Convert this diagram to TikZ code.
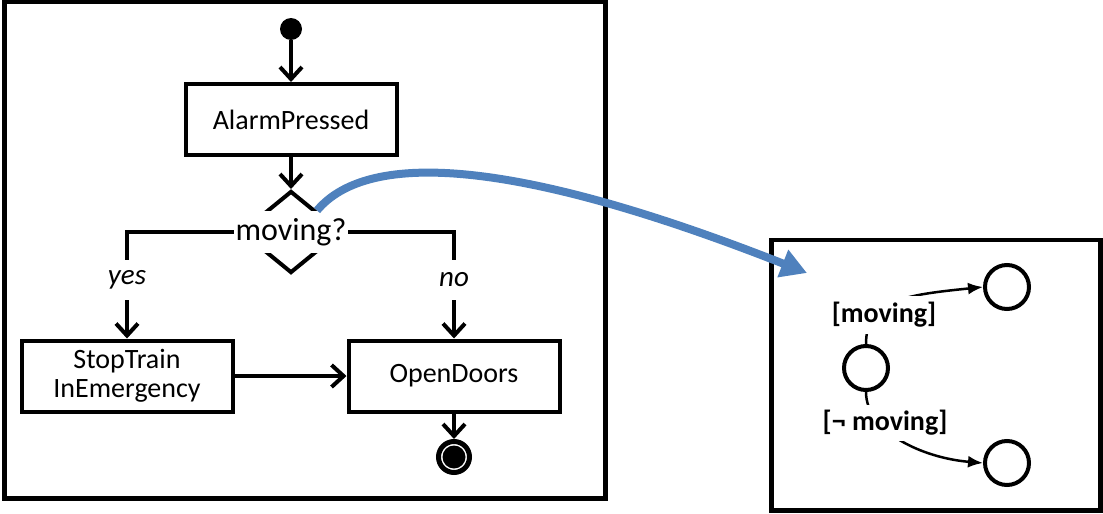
\documentclass[tikz,border=0pt]{standalone}
\usepackage{fontspec}
\setmainfont{Carlito}
\usetikzlibrary{shapes.geometric,arrows.meta}
\definecolor{arrowblue}{RGB}{79,129,189}
\begin{document}
\begin{tikzpicture}[x=1pt,y=-1pt,
 flow/.style={line width=4pt,-{Straight Barb[length=12pt,width=22pt]}},
 actbox/.style={draw,line width=4pt,minimum width=211pt,minimum height=71pt,inner sep=2pt,font=\fontsize{28}{29}\selectfont,align=center},
 frame/.style={draw,line width=4.5pt},
 guard/.style={fill=white,inner xsep=2pt,inner ysep=0pt,font=\fontsize{29}{30}\selectfont\itshape,minimum height=40pt},
 state/.style={draw,circle,line width=4pt,minimum size=44pt,inner sep=0pt},
 cond/.style={fill=white,inner sep=1pt,font=\fontsize{28}{30}\selectfont\bfseries},
 trans/.style={line width=2.5pt,-{Latex[length=15pt,width=12pt]}}
]
\useasboundingbox (0,0) rectangle (1103,514);
% left frame
\draw[frame] (4.7,2.2) rectangle (605.5,498.7);
\node[circle,fill,minimum size=22pt,inner sep=0pt] (init) at (291,29) {};
\node[actbox] (alarm) at (291,119.5) {AlarmPressed};
\node[draw,diamond,line width=4pt,minimum width=100pt,minimum height=82pt,inner sep=0pt] (dec) at (291,232) {};
\node[actbox] (stop) at (127,376) {StopTrain\\InEmergency};
\node[actbox] (open) at (454,376) {OpenDoors};
\node[circle,draw,line width=5pt,minimum size=31pt,inner sep=0pt] (fin) at (454,457) {};
\node[circle,fill,minimum size=23pt,inner sep=0pt] (finc) at (fin.center) {};
\draw[flow] (init) -- (alarm);
\draw[flow] (alarm) -- (dec);
\draw[flow] (dec.west) -| node[guard,pos=0.724]{yes} (stop.north);
\draw[flow] (dec.east) -| node[guard,pos=0.724]{no} (open.north);
\draw[flow] (stop) -- (open);
\draw[flow] (open) -- (fin);
\node[fill=white,inner xsep=2pt,inner ysep=0pt,minimum height=42pt,font=\fontsize{32}{34}\selectfont] (q) at (dec.center) {moving?};
% right frame
\draw[frame] (771.7,240) rectangle (1100.5,510.3);
\node[state] (s0) at (866,368) {};
\node[state] (s1) at (1007,287) {};
\node[state] (s2) at (1007,463) {};
\draw[trans] (s0.north) .. controls +(0,-44) and +(-78,8) .. (s1.west);
\draw[trans] (s0.south) .. controls +(0,40) and +(-60,-5) .. (s2.west);
\node[cond,minimum height=38pt] (g1) at (884,315) {[moving]};
\node[cond,minimum height=36pt] (g2) at (885,423) {[¬ moving]};
% blue arrow
\coordinate (tgt) at (807,273);
\draw[arrowblue,line width=8pt,-{Triangle[length=26pt,width=28pt]}] (dec.north east) .. controls +(52,-62) and +(-287,-113) .. (tgt);
\end{tikzpicture}
\end{document}
